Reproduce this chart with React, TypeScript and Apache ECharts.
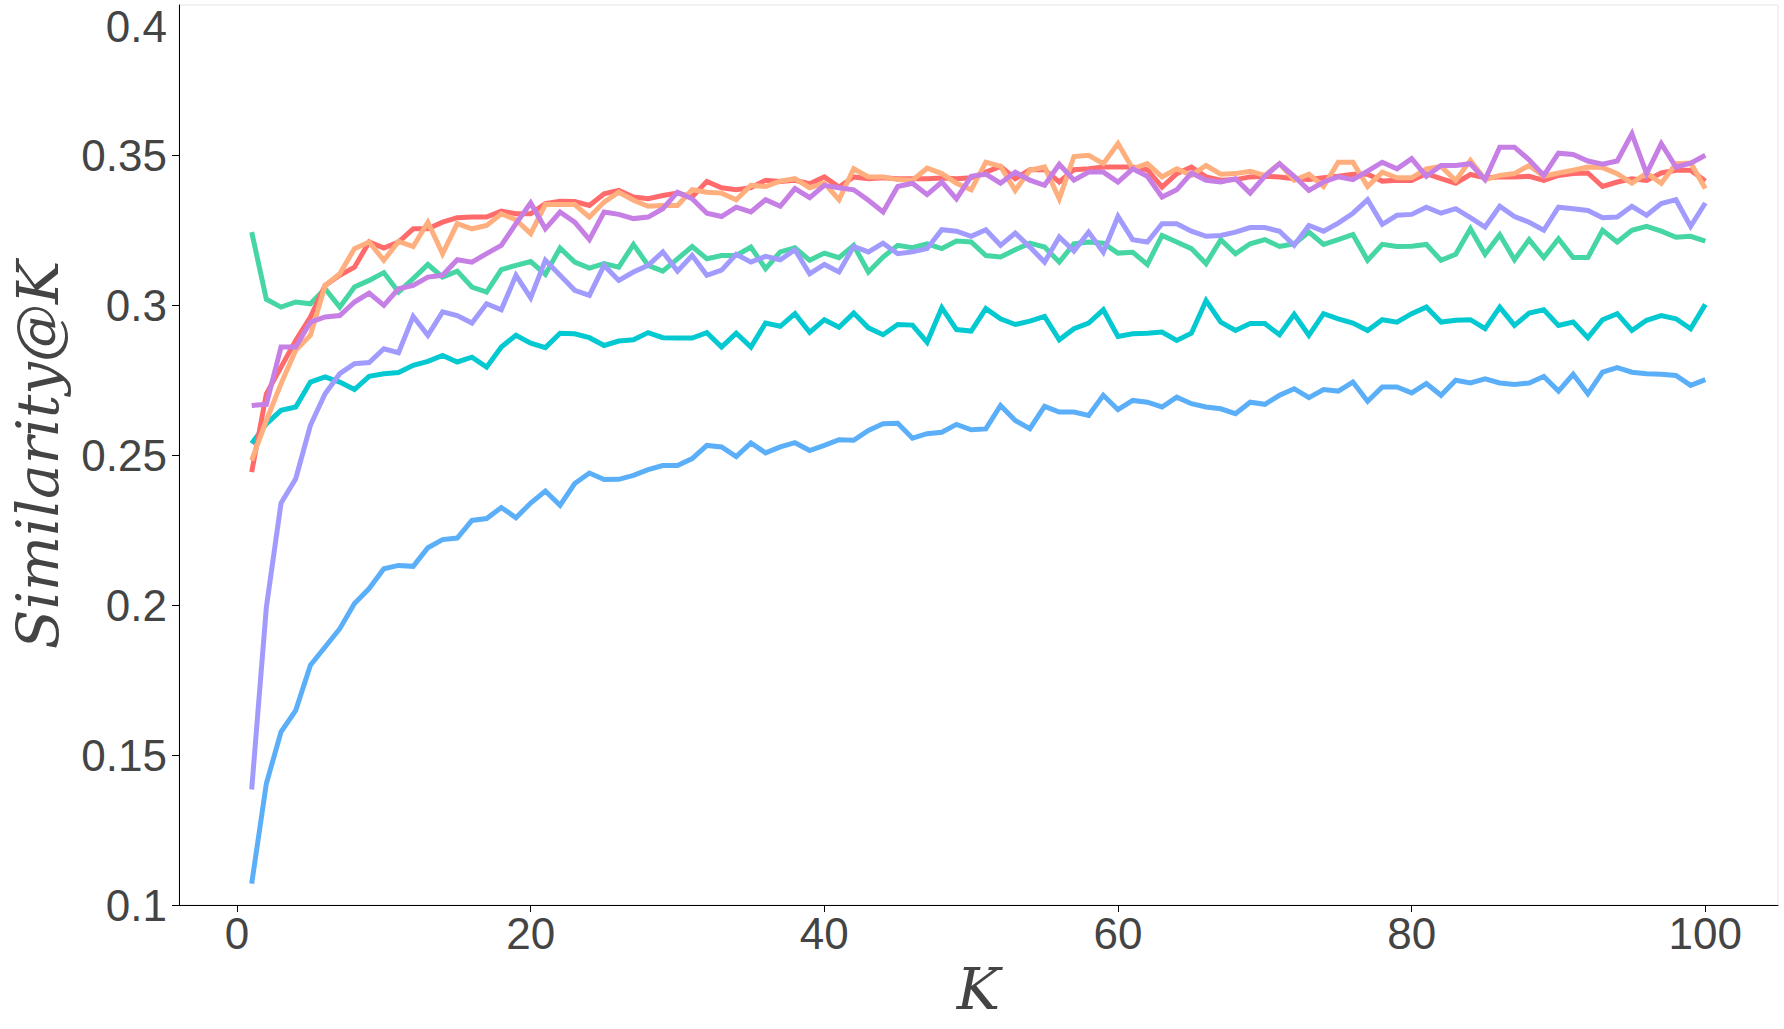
import React, { useEffect, useRef } from "react";
import * as echarts from "echarts";

const K_VALUES: number[] = Array.from({ length: 100 }, (_, i) => i + 1);

const X_TICKS = [0, 20, 40, 60, 80, 100];

const Y_MAX_LABEL = "0.4";

const BLUE = [
  0.1071, 0.1405, 0.1577, 0.1649, 0.1799, 0.186, 0.1921, 0.2005, 0.2055, 0.2121,
  0.2132, 0.2129, 0.2191, 0.2218, 0.2223, 0.2282, 0.2288, 0.2325, 0.2291, 0.234,
  0.238, 0.2332, 0.2405, 0.244, 0.2418, 0.2419, 0.2432, 0.2451, 0.2465, 0.2465,
  0.2488, 0.2532, 0.2527, 0.2495, 0.254, 0.2507, 0.2527, 0.2541, 0.2515, 0.2532,
  0.2551, 0.2549, 0.2582, 0.2604, 0.2606, 0.2556, 0.2571, 0.2576, 0.2602, 0.2584,
  0.2587, 0.2665, 0.2615, 0.2588, 0.2662, 0.2643, 0.2643, 0.2632, 0.2699, 0.2651,
  0.2682, 0.2676, 0.266, 0.2693, 0.2671, 0.266, 0.2654, 0.2638, 0.2676, 0.2669,
  0.2699, 0.2721, 0.2691, 0.2718, 0.2713, 0.2743, 0.2679, 0.2727, 0.2727, 0.2707,
  0.2738, 0.2699, 0.2749, 0.274, 0.2754, 0.274, 0.2735, 0.274, 0.2762, 0.2713,
  0.2769, 0.2704, 0.2776, 0.2791, 0.2776, 0.2771, 0.2769, 0.2765, 0.2732, 0.2751,
];

const TEAL = [
  0.2538, 0.2604, 0.2649, 0.266, 0.2743, 0.276, 0.2743, 0.2718, 0.2762, 0.2771,
  0.2775, 0.2799, 0.2812, 0.2832, 0.281, 0.2826, 0.2793, 0.286, 0.2899, 0.2873,
  0.2858, 0.2906, 0.2904, 0.2891, 0.2865, 0.288, 0.2884, 0.2908, 0.2891, 0.289,
  0.289, 0.2908, 0.286, 0.2906, 0.286, 0.294, 0.2929, 0.2971, 0.2909, 0.2951,
  0.2926, 0.2973, 0.2924, 0.2901, 0.2935, 0.2933, 0.2876, 0.2991, 0.2918, 0.2913,
  0.2988, 0.2954, 0.2935, 0.2946, 0.2962, 0.2884, 0.2921, 0.294, 0.2984, 0.2895,
  0.2904, 0.2906, 0.291, 0.2882, 0.2906, 0.3015, 0.2943, 0.2915, 0.2938, 0.2938,
  0.2901, 0.2969, 0.2899, 0.2971, 0.2954, 0.294, 0.2915, 0.2951, 0.2943, 0.2971,
  0.2993, 0.2943, 0.2949, 0.2951, 0.2921, 0.2993, 0.2932, 0.2973, 0.2984, 0.2932,
  0.2943, 0.2891, 0.2951, 0.2971, 0.2915, 0.2949, 0.2965, 0.2954, 0.2921, 0.3002,
];

const GREEN = [
  0.3243, 0.3019, 0.2993, 0.301, 0.3004, 0.3054, 0.2993, 0.306, 0.3082, 0.3108,
  0.3043, 0.3088, 0.3135, 0.3093, 0.3113, 0.306, 0.3043, 0.3118, 0.3132, 0.3145,
  0.3102, 0.319, 0.3143, 0.3123, 0.3138, 0.3126, 0.3202, 0.3132, 0.3113, 0.3154,
  0.3195, 0.3154, 0.3165, 0.3165, 0.3193, 0.3121, 0.3177, 0.3191, 0.3149, 0.3173,
  0.3158, 0.3199, 0.311, 0.316, 0.3199, 0.3191, 0.3204, 0.3188, 0.3213, 0.321,
  0.3165, 0.316, 0.3184, 0.3206, 0.3193, 0.3143, 0.3204, 0.321, 0.3206, 0.3173,
  0.3176, 0.3135, 0.3232, 0.321, 0.3188, 0.3138, 0.3218, 0.3171, 0.3204, 0.3218,
  0.3195, 0.3204, 0.3243, 0.3202, 0.3218, 0.3235, 0.3149, 0.3202, 0.3195, 0.3196,
  0.3202, 0.3149, 0.3169, 0.3254, 0.3169, 0.3234, 0.3151, 0.3218, 0.3158, 0.3221,
  0.3158, 0.3158, 0.3249, 0.321, 0.3249, 0.3262, 0.3246, 0.3226, 0.3229, 0.3213,
];

const LAVENDER = [
  0.1385, 0.1993, 0.234, 0.2421, 0.2599, 0.2704, 0.2771, 0.2804, 0.2808, 0.2854,
  0.2841, 0.2962, 0.2899, 0.2977, 0.2965, 0.294, 0.3004, 0.2984, 0.3099, 0.3024,
  0.3149, 0.3099, 0.3049, 0.3032, 0.3132, 0.3082, 0.311, 0.3132, 0.3177, 0.3113,
  0.3165, 0.3099, 0.3116, 0.3169, 0.3143, 0.3162, 0.3151, 0.3184, 0.3104, 0.3135,
  0.311, 0.3195, 0.3177, 0.3206, 0.3171, 0.3177, 0.3188, 0.3251, 0.3246, 0.3229,
  0.3251, 0.3199, 0.324, 0.3193, 0.3143, 0.3227, 0.318, 0.3243, 0.3176, 0.3295,
  0.3218, 0.321, 0.3271, 0.3271, 0.3246, 0.3229, 0.3232, 0.3243, 0.3258, 0.3258,
  0.3246, 0.3199, 0.3265, 0.3246, 0.3273, 0.3306, 0.3351, 0.3269, 0.3299, 0.3302,
  0.3326, 0.3306, 0.3321, 0.3291, 0.326, 0.3329, 0.3295, 0.3276, 0.3249, 0.3326,
  0.3321, 0.3315, 0.3291, 0.3293, 0.3329, 0.3299, 0.3338, 0.3351, 0.3262, 0.334,
];

const RED = [
  0.2443, 0.2704, 0.2793, 0.2882, 0.296, 0.3065, 0.3099, 0.3126, 0.321, 0.319,
  0.321, 0.3254, 0.3254, 0.3276, 0.3291, 0.3293, 0.3293, 0.3313, 0.3304, 0.3304,
  0.3338, 0.3346, 0.3345, 0.3332, 0.3371, 0.3382, 0.336, 0.3354, 0.3365, 0.3373,
  0.336, 0.3412, 0.3391, 0.3384, 0.3391, 0.3416, 0.3412, 0.3416, 0.3404, 0.3427,
  0.3393, 0.3427, 0.3421, 0.3424, 0.3421, 0.3421, 0.3421, 0.3423, 0.3421, 0.3424,
  0.3443, 0.3462, 0.3421, 0.3451, 0.3451, 0.341, 0.3451, 0.3454, 0.346, 0.346,
  0.346, 0.3451, 0.3393, 0.3438, 0.346, 0.3427, 0.3416, 0.3418, 0.3427, 0.3429,
  0.3427, 0.3421, 0.3418, 0.3424, 0.3429, 0.3436, 0.3436, 0.3413, 0.3416, 0.3415,
  0.3438, 0.3421, 0.3406, 0.3435, 0.3424, 0.3427, 0.3427, 0.3429, 0.3415, 0.3432,
  0.3438, 0.344, 0.3395, 0.341, 0.3421, 0.3415, 0.344, 0.3449, 0.3449, 0.3413,
];

const ORANGE = [
  0.2482, 0.2615, 0.2738, 0.2849, 0.2899, 0.3065, 0.3104, 0.3188, 0.321, 0.3149,
  0.3212, 0.3195, 0.3276, 0.3171, 0.3271, 0.3254, 0.3265, 0.3304, 0.3284, 0.3238,
  0.3335, 0.3335, 0.3335, 0.3293, 0.3343, 0.3376, 0.3349, 0.3329, 0.3332, 0.3332,
  0.3384, 0.3376, 0.3373, 0.3351, 0.3399, 0.3395, 0.3413, 0.3421, 0.3391, 0.3406,
  0.3351, 0.3454, 0.3427, 0.3427, 0.3418, 0.3416, 0.3456, 0.3438, 0.3406, 0.3384,
  0.3476, 0.3462, 0.3382, 0.3449, 0.346, 0.3354, 0.3495, 0.3499, 0.3471, 0.3538,
  0.3454, 0.3471, 0.3427, 0.3454, 0.3432, 0.3465, 0.3436, 0.3438, 0.3446, 0.3432,
  0.3471, 0.3416, 0.3436, 0.3395, 0.3476, 0.3476, 0.3395, 0.3443, 0.3424, 0.3424,
  0.3454, 0.3462, 0.3415, 0.3482, 0.3418, 0.3432, 0.3438, 0.3465, 0.3429, 0.344,
  0.3449, 0.346, 0.3458, 0.3438, 0.3406, 0.344, 0.3406, 0.3471, 0.3473, 0.3388,
];

const PURPLE = [
  0.2665, 0.2669, 0.286, 0.286, 0.2943, 0.296, 0.2965, 0.301, 0.304, 0.2999,
  0.3054, 0.3065, 0.3093, 0.3099, 0.3151, 0.3143, 0.3171, 0.3199, 0.3271, 0.334,
  0.3254, 0.331, 0.3276, 0.3218, 0.331, 0.3302, 0.3288, 0.3293, 0.3321, 0.3376,
  0.3354, 0.3306, 0.3295, 0.3326, 0.331, 0.3351, 0.3329, 0.3388, 0.3358, 0.3399,
  0.3391, 0.3384, 0.3349, 0.331, 0.3395, 0.3406, 0.3368, 0.341, 0.3354, 0.3429,
  0.3436, 0.3406, 0.3443, 0.3416, 0.3399, 0.3469, 0.3416, 0.3443, 0.3443, 0.341,
  0.3454, 0.3429, 0.336, 0.3384, 0.344, 0.3416, 0.341, 0.3421, 0.3373, 0.3429,
  0.3471, 0.3429, 0.3382, 0.341, 0.3427, 0.3418, 0.3446, 0.3476, 0.3454, 0.3488,
  0.3429, 0.3465, 0.3465, 0.3471, 0.3418, 0.3526, 0.3526, 0.3484, 0.3432, 0.3506,
  0.3502, 0.348, 0.3469, 0.348, 0.3571, 0.3438, 0.3538, 0.346, 0.3473, 0.3499,
];

const SERIES_LIST = [
  { name: "blue", values: BLUE, color: "#5BAFF8" },
  { name: "teal", values: TEAL, color: "#05C9D1" },
  { name: "green", values: GREEN, color: "#46D6A3" },
  { name: "lavender", values: LAVENDER, color: "#A29BFE" },
  { name: "red", values: RED, color: "#FF6B6B" },
  { name: "orange", values: ORANGE, color: "#FFAE7D" },
  { name: "purple", values: PURPLE, color: "#C67FE4" },
];

const TEXT_COLOR = "#444444";
const GRID_LEFT = 179;
const LABEL_MARGIN = 12;
const TICK_FONT = 44;

export default function App() {
  const ref = useRef<HTMLDivElement>(null);

  useEffect(() => {
    if (!ref.current) return;
    const chart = echarts.init(ref.current, null, { renderer: "svg" });
    chart.setOption({
      animation: false,
      backgroundColor: "#ffffff",
      grid: {
        left: GRID_LEFT,
        right: 6,
        top: 5,
        bottom: 124,
        show: true,
        borderColor: "#e4e4e4",
        borderWidth: 1,
      },
      graphic: [
        {
          type: "text",
          x: GRID_LEFT - LABEL_MARGIN,
          y: 4,
          style: {
            text: Y_MAX_LABEL,
            align: "right",
            verticalAlign: "top",
            fontFamily: "Liberation Sans",
            fontSize: TICK_FONT,
            fill: TEXT_COLOR,
          },
        },
      ],
      xAxis: {
        type: "value",
        min: -3.95,
        max: 104.95,
        name: "K",
        nameLocation: "middle",
        nameGap: 54,
        nameTextStyle: {
          fontFamily: "DejaVu Serif",
          fontStyle: "italic",
          fontSize: 58,
          color: TEXT_COLOR,
        },
        axisLine: { show: true, onZero: false, lineStyle: { color: "#000", width: 1 } },
        axisTick: {
          show: true,
          inside: false,
          length: 7,
          customValues: X_TICKS,
          lineStyle: { color: "#000", width: 1 },
        },
        axisLabel: {
          customValues: X_TICKS,
          fontFamily: "Liberation Sans",
          fontSize: TICK_FONT,
          color: TEXT_COLOR,
          margin: 6,
        },
        splitLine: { show: false },
      },
      yAxis: {
        type: "value",
        min: 0.1,
        max: 0.4,
        interval: 0.05,
        name: "Similarity@K",
        nameLocation: "middle",
        nameGap: 112,
        nameRotate: 90,
        nameTextStyle: {
          fontFamily: "DejaVu Serif",
          fontStyle: "italic",
          fontSize: 58,
          color: TEXT_COLOR,
        },
        axisLine: { show: true, onZero: false, lineStyle: { color: "#000", width: 1 } },
        axisTick: { show: true, inside: false, length: 7, lineStyle: { color: "#000", width: 1 } },
        axisLabel: {
          fontFamily: "Liberation Sans",
          fontSize: TICK_FONT,
          color: TEXT_COLOR,
          margin: LABEL_MARGIN,
          showMaxLabel: false,
          formatter: (v: number) => String(Number(v.toFixed(2))),
        },
        splitLine: { show: false },
      },
      series: SERIES_LIST.map((s) => ({
        name: s.name,
        type: "line",
        showSymbol: false,
        symbol: "none",
        data: s.values.map((v, i) => [K_VALUES[i], v]),
        lineStyle: { color: s.color, width: 5, cap: "butt", join: "miter" },
        itemStyle: { color: s.color },
        emphasis: { disabled: true },
      })),
    });
    return () => chart.dispose();
  }, []);

  return (
    <div
      ref={ref}
      style={{ position: "fixed", left: 0, top: 0, width: 1784, height: 1029, background: "#fff" }}
    />
  );
}
